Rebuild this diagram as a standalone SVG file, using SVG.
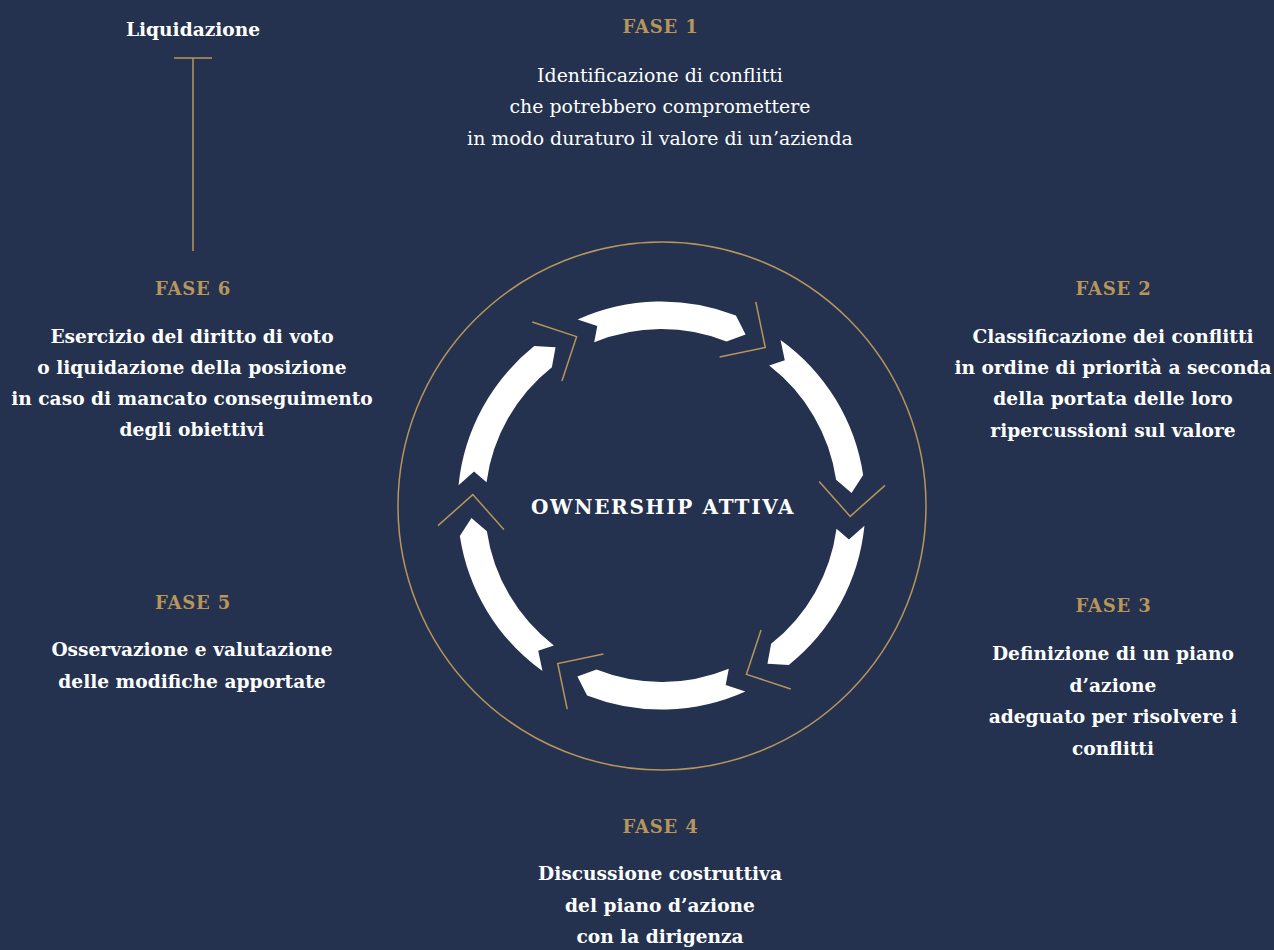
<svg xmlns="http://www.w3.org/2000/svg" width="1274" height="950" viewBox="0 0 1274 950">
<style>
.bg{fill:#24324f}
.gold{fill:none;stroke:#b8955a;stroke-width:1.5}
.arrow{fill:#ffffff}
.fase{font-family:"DejaVu Serif",serif;font-weight:bold;font-size:18px;letter-spacing:0.8px;fill:#b8955a;text-anchor:middle}
.b{font-family:"DejaVu Serif",serif;font-weight:bold;font-size:18.6px;fill:#ffffff;text-anchor:middle}
.r{font-family:"DejaVu Serif",serif;font-size:18.9px;fill:#ffffff;text-anchor:middle}
.title{font-family:"DejaVu Serif",serif;font-weight:bold;font-size:20px;letter-spacing:1.7px;fill:#ffffff;text-anchor:middle}
</style>
<defs>
<path id="seg" d="M -83.9,-185.9 L -64.2,-179.4 L -67.3,-163.2 A 176.5 176.5 0 0 1 65.0,-164.1 L 84.1,-170.9 L 74.4,-189.9 A 204 204 0 0 0 -83.9,-185.9 Z"/>
<path id="chev" d="M -33,-222 L 0,-189 L -33,-156"/>
</defs>
<rect class="bg" x="0" y="0" width="1274" height="950"/>
<g id="cycle">
<circle class="gold" cx="662" cy="506" r="264"/>
<g transform="translate(661.5,505.5)">
<use href="#seg" class="arrow" transform="rotate(0)"/>
<use href="#seg" class="arrow" transform="rotate(60)"/>
<use href="#seg" class="arrow" transform="rotate(120)"/>
<use href="#seg" class="arrow" transform="rotate(180)"/>
<use href="#seg" class="arrow" transform="rotate(240)"/>
<use href="#seg" class="arrow" transform="rotate(300)"/>
</g>
</g>
<g id="connectors">
<g transform="translate(661.5,505.5)">
<use href="#chev" class="gold" transform="rotate(33.3)"/>
<use href="#chev" class="gold" transform="rotate(93.3)"/>
<use href="#chev" class="gold" transform="rotate(153.3)"/>
<use href="#chev" class="gold" transform="rotate(213.3)"/>
<use href="#chev" class="gold" transform="rotate(273.3)"/>
<use href="#chev" class="gold" transform="rotate(333.3)"/>
</g>
<path class="gold" d="M 174,58 L 212,58 M 193,58 L 193,251"/>
</g>
<g id="center">
<text class="title" x="663" y="514">OWNERSHIP ATTIVA</text>
</g>
<g id="liquidazione">
<text class="b" x="193" y="36">Liquidazione</text>
</g>
<g id="fase1">
<text class="fase" x="660.5" y="33">FASE 1</text>
<text class="r" x="660" y="82">Identificazione di conflitti</text>
<text class="r" x="660" y="113">che potrebbero compromettere</text>
<text class="r" x="660" y="145">in modo duraturo il valore di un’azienda</text>
</g>
<g id="fase2">
<text class="fase" x="1113.5" y="295">FASE 2</text>
<text class="b" x="1113" y="343">Classificazione dei conflitti</text>
<text class="b" x="1113" y="374">in ordine di priorità a seconda</text>
<text class="b" x="1113" y="405">della portata delle loro</text>
<text class="b" x="1113" y="437">ripercussioni sul valore</text>
</g>
<g id="fase3">
<text class="fase" x="1113.5" y="612">FASE 3</text>
<text class="b" x="1113" y="660">Definizione di un piano</text>
<text class="b" x="1113" y="692">d’azione</text>
<text class="b" x="1113" y="723">adeguato per risolvere i</text>
<text class="b" x="1113" y="755">conflitti</text>
</g>
<g id="fase4">
<text class="fase" x="660.5" y="833">FASE 4</text>
<text class="b" x="660" y="880">Discussione costruttiva</text>
<text class="b" x="660" y="912">del piano d’azione</text>
<text class="b" x="660" y="943">con la dirigenza</text>
</g>
<g id="fase5">
<text class="fase" x="193" y="609">FASE 5</text>
<text class="b" x="192" y="656">Osservazione e valutazione</text>
<text class="b" x="192" y="688">delle modifiche apportate</text>
</g>
<g id="fase6">
<text class="fase" x="193" y="295">FASE 6</text>
<text class="b" x="192" y="343">Esercizio del diritto di voto</text>
<text class="b" x="192" y="374">o liquidazione della posizione</text>
<text class="b" x="192" y="405">in caso di mancato conseguimento</text>
<text class="b" x="192" y="436">degli obiettivi</text>
</g>
</svg>
